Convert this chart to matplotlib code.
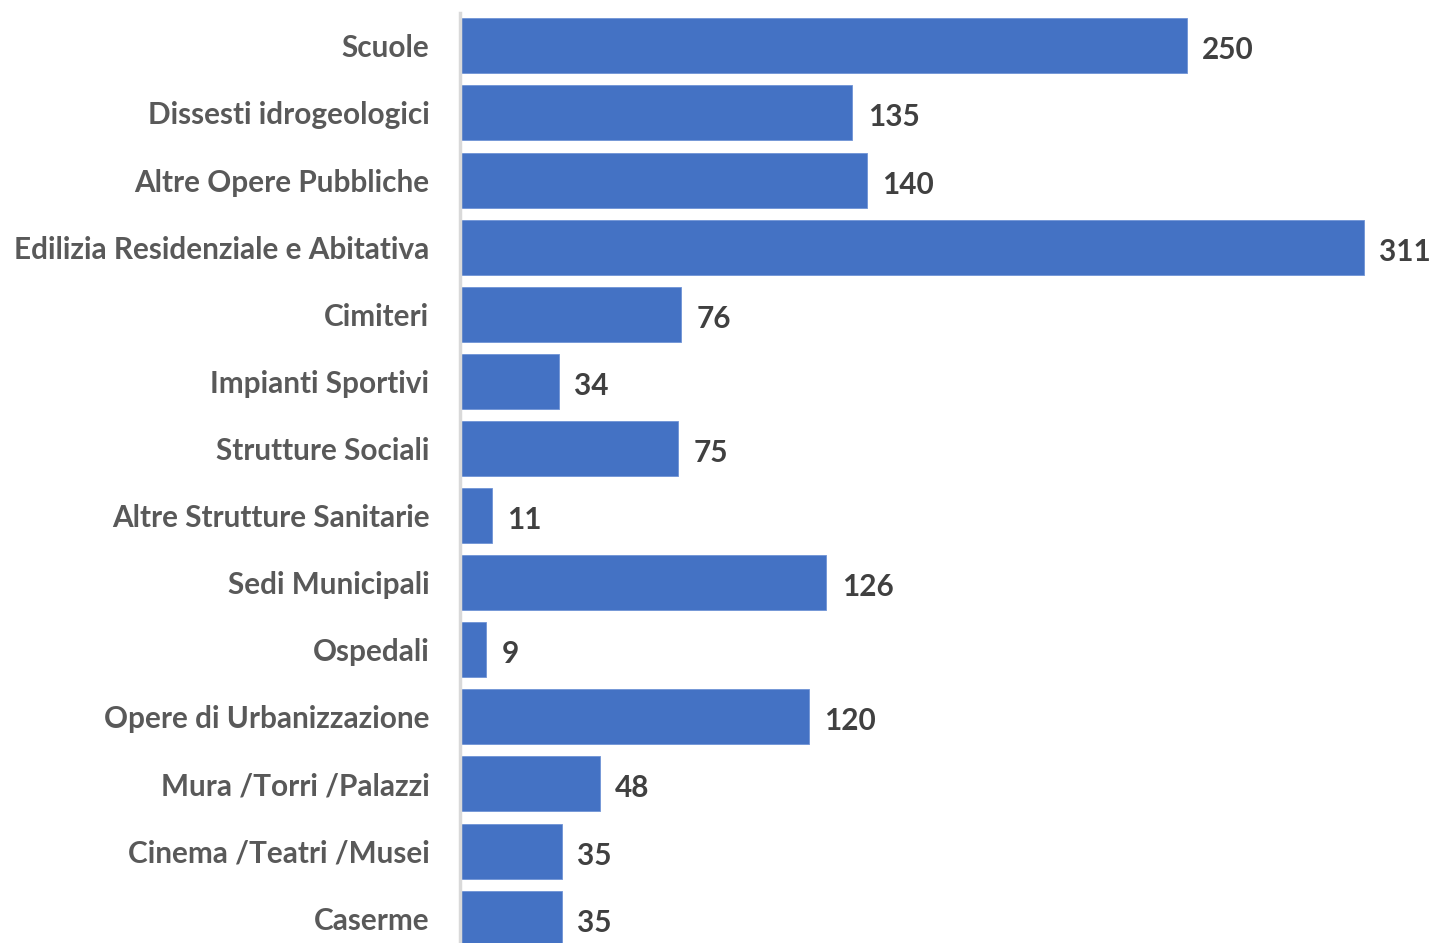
import matplotlib
matplotlib.use("Agg")
import matplotlib.pyplot as plt

categorie = [
    "Scuole",
    "Dissesti idrogeologici",
    "Altre Opere Pubbliche",
    "Edilizia Residenziale e Abitativa",
    "Cimiteri",
    "Impianti Sportivi",
    "Strutture Sociali",
    "Altre Strutture Sanitarie",
    "Sedi Municipali",
    "Ospedali",
    "Opere di Urbanizzazione",
    "Mura /Torri /Palazzi",
    "Cinema /Teatri /Musei",
    "Caserme",
]
valori = [250, 135, 140, 311, 76, 34, 75, 11, 126, 9, 120, 48, 35, 35]

blu = "#4472C4"
grigio = "#595959"

fig = plt.figure(figsize=(14.32, 9.43), dpi=100)
ax = fig.add_axes([460 / 1432, 0, 972 / 1432, 930 / 943])

pos = list(range(len(categorie)))
bars = ax.barh(pos, valori, height=0.82, color=blu, edgecolor="#6f93d6", linewidth=0.6)

ax.set_xlim(0, 334.4)
ax.set_ylim(13.37, -0.49)

ax.set_yticks(pos)
ax.set_yticklabels(categorie, fontsize=21.4, color=grigio, fontfamily="Lato", fontweight="bold",
                   va="center_baseline")
ax.tick_params(axis="y", length=0, pad=22)
ax.set_xticks([])

for s in ["top", "right", "bottom"]:
    ax.spines[s].set_visible(False)
ax.spines["left"].set_color("#d9d9d9")
ax.spines["left"].set_linewidth(2.5)

for b, v in zip(bars, valori):
    ax.text(b.get_width() + 5.3, b.get_y() + b.get_height() / 2 + 0.03, str(v),
            va="center_baseline", ha="left", fontsize=21.4, color="#404040",
            fontfamily="Lato", fontweight="bold")

fig.savefig("out.png", dpi=100)
